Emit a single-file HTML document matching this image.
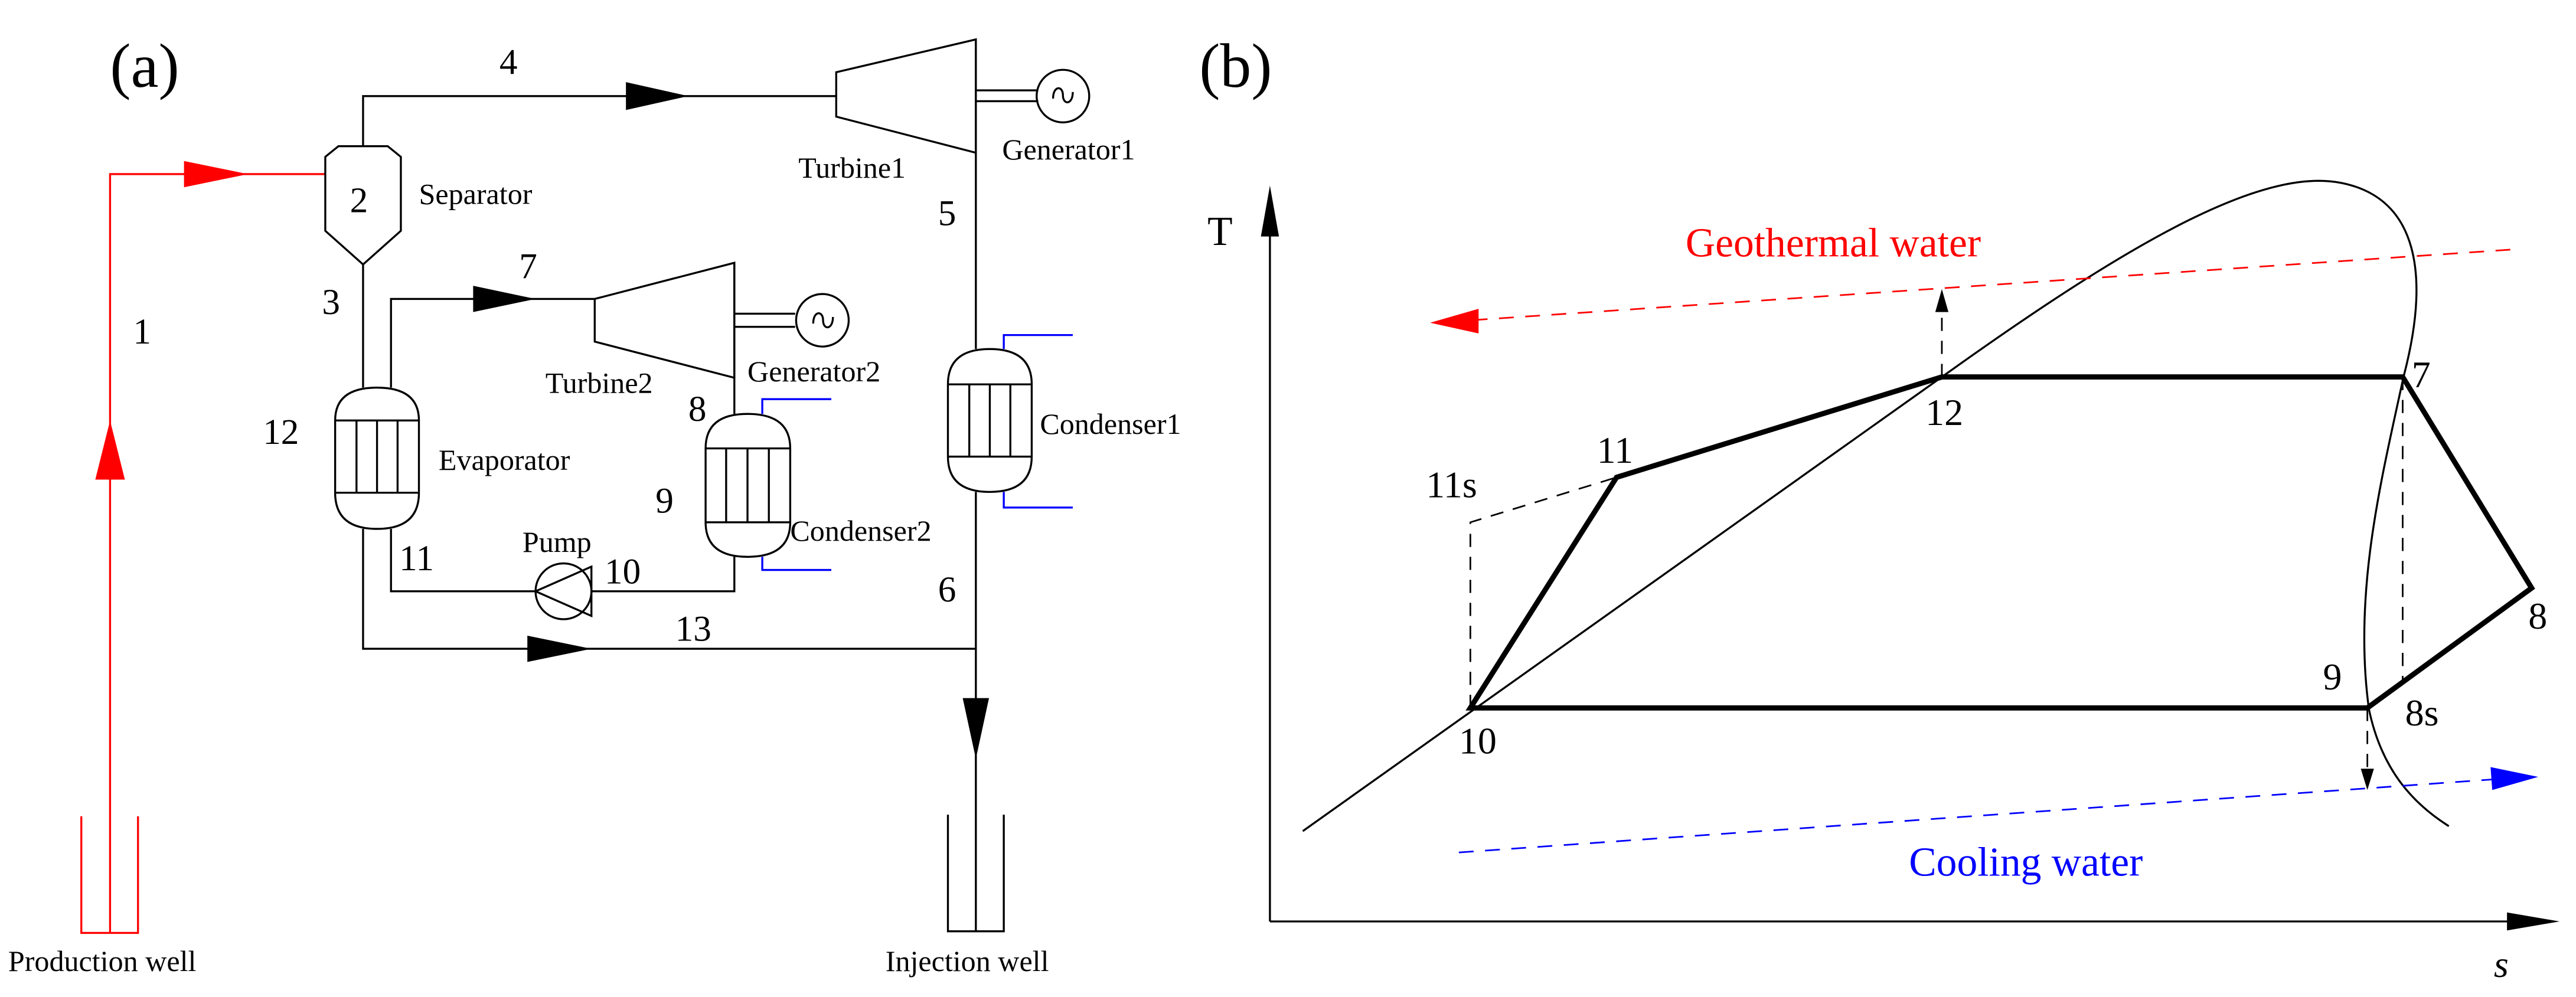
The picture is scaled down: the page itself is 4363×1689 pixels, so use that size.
<!DOCTYPE html>
<html><head><meta charset="utf-8"><style>html,body{margin:0;padding:0;background:#fff}svg{display:block}text{font-family:"Liberation Serif",serif}</style></head>
<body>
<svg width="4363" height="1689" viewBox="0 0 1568 607" preserveAspectRatio="none" xmlns="http://www.w3.org/2000/svg">
<g dominant-baseline="central" fill="#000">
<text x="67" y="40" font-size="38">(a)</text>
<text x="730" y="40" font-size="38">(b)</text>
</g>
<!-- production well red -->
<g stroke="#f00" stroke-width="1.2" fill="none">
<polyline points="49.5,497 49.5,568 84,568 84,497"/>
<polyline points="67,568 67,106 198,106"/>
</g>
<polygon points="112,98 151,106 112,114" fill="#f00"/>
<polygon points="67,256 58,292 76,292" fill="#f00"/>
<g stroke="#000" stroke-width="1.2" fill="none">
<!-- separator -->
<polygon points="198,95.5 206,89 236,89 244,95.5 244,140.5 221,161 198,140.5"/>
<polyline points="221,89 221,58.5 509,58.5"/>
<!-- turbine1 -->
<polygon points="509,44 594,24 594,93 509,71"/>
<line x1="594" y1="24" x2="594" y2="212.5"/>
<line x1="594" y1="299.5" x2="594" y2="567"/>
<line x1="594" y1="55" x2="632" y2="55"/><line x1="594" y1="61.6" x2="632" y2="61.6"/>
<circle cx="647" cy="58.5" r="16"/>
<path d="M641,60 c0,-8 6,-8 6,-2 c0,6 6,6 6,-2"/>
<!-- evaporator -->
<line x1="221" y1="161" x2="221" y2="236"/>
<path d="M204,256 Q204,236 229.5,236 Q255,236 255,256 L255,300 Q255,322 229.5,322 Q204,322 204,300 Z"/>
<line x1="204" y1="256" x2="255" y2="256"/><line x1="204" y1="300" x2="255" y2="300"/>
<line x1="217" y1="256" x2="217" y2="300"/><line x1="229.5" y1="256" x2="229.5" y2="300"/><line x1="242" y1="256" x2="242" y2="300"/>
<polyline points="238,236 238,182 362,182"/>
<!-- turbine2 -->
<polygon points="362,182 447,160 447,230 362,208"/>
<polyline points="447,160 447,252"/>
<line x1="447" y1="191" x2="484" y2="191"/><line x1="447" y1="199" x2="484" y2="199"/>
<circle cx="500.6" cy="195" r="16"/>
<path d="M495,197 c0,-8 6,-8 6,-2 c0,6 6,6 6,-2"/>
<!-- condenser2 -->
<path d="M429.5,273 Q429.5,252 455,252 Q481,252 481,273 L481,318 Q481,339 455,339 Q429.5,339 429.5,318 Z"/>
<line x1="429.5" y1="273" x2="481" y2="273"/><line x1="429.5" y1="318" x2="481" y2="318"/>
<line x1="442" y1="273" x2="442" y2="318"/><line x1="455" y1="273" x2="455" y2="318"/><line x1="468" y1="273" x2="468" y2="318"/>
<polyline points="447,338 447,360 360,360"/>
<!-- pump -->
<circle cx="343" cy="360" r="17"/>
<polygon points="326,360 360,345 360,375"/>
<polyline points="326,360 238,360 238,322"/>
<polyline points="221,322 221,395 594,395"/>
<!-- condenser1 -->
<path d="M577,234 Q577,212.5 602.5,212.5 Q628,212.5 628,234 L628,278 Q628,299.5 602.5,299.5 Q577,299.5 577,278 Z"/>
<line x1="577" y1="234" x2="628" y2="234"/><line x1="577" y1="278" x2="628" y2="278"/>
<line x1="590" y1="234" x2="590" y2="278"/><line x1="602.5" y1="234" x2="602.5" y2="278"/><line x1="615" y1="234" x2="615" y2="278"/>
<polyline points="577,496 577,567 611,567 611,496"/>
</g>
<g stroke="#00f" stroke-width="1.2" fill="none">
<polyline points="464,252 464,243 506,243"/><polyline points="464,339 464,347 506,347"/>
<polyline points="611,212.5 611,204 653,204"/><polyline points="611,299.5 611,309 653,309"/>
</g>
<g fill="#000">
<polygon points="381,50 419,58.5 381,67"/>
<polygon points="288,174 326,182 288,190"/>
<polygon points="321,387 360,395 321,403"/>
<polygon points="586,425 602,425 594,462"/>
</g>
<g font-size="22" dominant-baseline="central">
<text x="304" y="38">4</text><text x="213" y="122">2</text><text x="81" y="202">1</text><text x="196" y="184">3</text>
<text x="571" y="130">5</text><text x="316" y="162">7</text><text x="419" y="249">8</text><text x="399" y="305">9</text>
<text x="160" y="263">12</text><text x="243" y="340">11</text><text x="368" y="348">10</text><text x="411" y="383">13</text><text x="571" y="359">6</text>
</g>
<g font-size="18" dominant-baseline="central">
<text x="255" y="118">Separator</text><text x="486" y="102">Turbine1</text><text x="610" y="91">Generator1</text>
<text x="332" y="233">Turbine2</text><text x="455" y="226">Generator2</text><text x="267" y="280">Evaporator</text>
<text x="318" y="330">Pump</text><text x="481" y="323">Condenser2</text><text x="633" y="258">Condenser1</text>
<text x="5" y="585">Production well</text><text x="539" y="585">Injection well</text>
</g>
<!-- (b) -->
<g stroke="#000" stroke-width="1.2" fill="none">
<polyline points="773,561 773,140"/><polyline points="773,561 1530,561"/>
<path d="M793,506 L1182,229.5 C1300,145 1380,100 1428,112 C1470,122 1480,165 1463,229.5 C1450,290 1432,360 1442,432 C1450,470 1470,490 1490.6,503"/>
</g>
<polygon points="773,113 767.5,144 778.5,144" fill="#000"/>
<polygon points="1558,561 1526,555.5 1526,566.5" fill="#000"/>
<polygon points="895,431 984,290.6 1182,229.5 1462.5,229.5 1541,358 1441,431" fill="none" stroke="#000" stroke-width="3.2" stroke-linejoin="miter"/>
<g stroke="#000" stroke-width="1" fill="none" stroke-dasharray="8,6">
<polyline points="895,431 895,318 984,290.6"/>
<line x1="1462.5" y1="229.5" x2="1462.5" y2="414"/>
<line x1="1182" y1="229.5" x2="1182" y2="188"/>
<line x1="1441" y1="431" x2="1441" y2="470"/>
</g>
<polygon points="1182,176 1178,190 1186,190" fill="#000"/>
<polygon points="1441,481 1437,468 1445,468" fill="#000"/>
<line x1="1528" y1="152" x2="895" y2="195" stroke="#f00" stroke-width="1" stroke-dasharray="9,7"/>
<polygon points="870.5,196.5 900,188 900,203" fill="#f00"/>
<line x1="888" y1="519" x2="1525" y2="474" stroke="#00f" stroke-width="1" stroke-dasharray="9,7"/>
<polygon points="1545,473 1516,467 1517,481" fill="#00f"/>
<g font-size="23" dominant-baseline="central">
<text x="1026" y="148" fill="#f00" font-size="25">Geothermal water</text>
<text x="1162" y="525" fill="#00f" font-size="25">Cooling water</text>
<text x="735" y="141" font-size="25">T</text>
<text x="1518" y="587" font-style="italic">s</text>
<text x="1468" y="228">7</text><text x="1172" y="251">12</text><text x="972" y="274">11</text><text x="868" y="295">11s</text>
<text x="888" y="451">10</text><text x="1414" y="412">9</text><text x="1464" y="434">8s</text><text x="1539" y="375">8</text>
</g>
</svg>
</body></html>
